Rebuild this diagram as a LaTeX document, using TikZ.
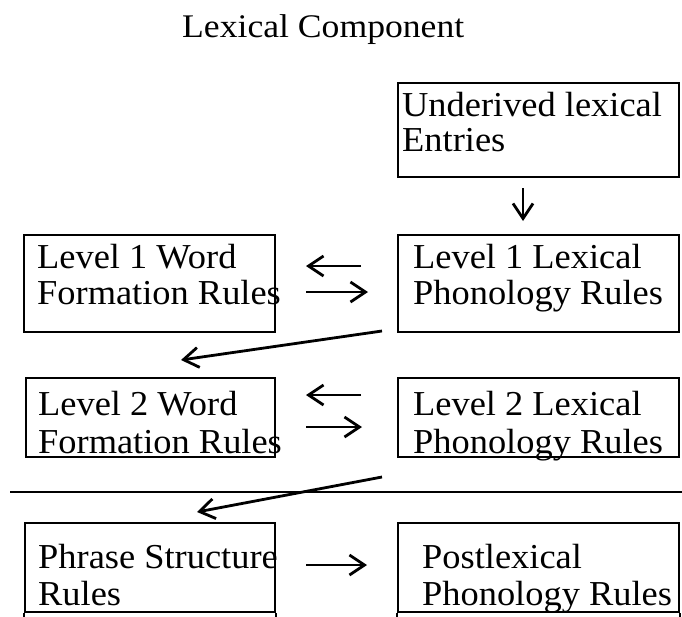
\documentclass[tikz,border=0pt]{standalone}
\usepackage{fontspec}
\setmainfont{Liberation Serif}[FakeStretch=1.04]
\newfontfamily\titlefont{Liberation Serif}[FakeStretch=1.08]
\usetikzlibrary{arrows.meta,calc}
\begin{document}
\begin{tikzpicture}[x=1pt,y=-1pt,
  box/.style={draw,line width=2pt,inner sep=0pt},
  lbl/.style={anchor=base west,inner sep=0pt,font=\fontsize{35}{38}\selectfont},
  arr/.style={line width=2.8pt,-{Straight Barb[length=15pt,width=20pt,line width=2.8pt]}}]
\useasboundingbox (0,0) rectangle (682,616);
% title
\node[anchor=base west,inner sep=0pt,font=\titlefont\fontsize{33}{36}\selectfont] (title) at (182,37) {Lexical Component};
% boxes
\node[box,minimum width=281pt,minimum height=94pt] (ue) at (538.5,130) {};
\node[box,minimum width=251pt,minimum height=97pt] (l1w) at (149.5,283.5) {};
\node[box,minimum width=281pt,minimum height=97pt] (l1p) at (538.5,283.5) {};
\node[box,minimum width=249pt,minimum height=79pt] (l2w) at (150.5,417.5) {};
\node[box,minimum width=281pt,minimum height=79pt] (l2p) at (538.5,417.5) {};
\node[box,minimum width=250pt,minimum height=89pt] (ps) at (150,567.5) {};
\node[box,minimum width=281pt,minimum height=89pt] (pl) at (538.5,567.5) {};
\draw[line width=2pt] (ps.south west) -- ++(0,6) (ps.south east) -- ++(0,6)
  (pl.south west) -- ++(0,6) (pl.south east) -- ++(0,6);
% texts
\node[lbl] (t1) at (402,116) {Underived lexical};
\node[lbl] (t2) at (402,151) {Entries};
\node[lbl] (t3) at (37,268) {Level 1 Word};
\node[lbl] (t4) at (37,304) {Formation Rules};
\node[lbl] (t5) at (413,268) {Level 1 Lexical};
\node[lbl] (t6) at (413,304) {Phonology Rules};
\node[lbl] (t7) at (38,415) {Level 2 Word};
\node[lbl] (t8) at (38,453) {Formation Rules};
\node[lbl] (t9) at (413,415) {Level 2 Lexical};
\node[lbl] (t10) at (413,453) {Phonology Rules};
\node[lbl] (t11) at (38,568) {Phrase Structure};
\node[lbl] (t12) at (38,605) {Rules};
\node[lbl] (t13) at (422,568) {Postlexical};
\node[lbl] (t14) at (422,605) {Phonology Rules};
% separator
\draw[line width=2pt] (10,492) -- (682,492);
% arrows
\draw[arr] ($(ue.south)+(-15.5,10)$) -- ($(l1p.north)+(-15.5,-13)$);
\draw[arr] ($(l1p.west)+(-36,-17.5)$) -- ($(l1w.east)+(30,-17.5)$);
\draw[arr] ($(l1w.east)+(30,8.5)$) -- ($(l1p.west)+(-29,8.5)$);
\draw[arr] ($(l1p.south west)+(-15,-2)$) -- ($(l2w.north)+(30.5,-17)$);
\draw[arr] ($(l2p.west)+(-36,-22.5)$) -- ($(l2w.east)+(30,-22.5)$);
\draw[arr] ($(l2w.east)+(30,9.5)$) -- ($(l2p.west)+(-35,9.5)$);
\draw[arr] ($(l2p.south west)+(-15,19)$) -- ($(ps.north)+(47,-10)$);
\draw[arr] ($(ps.east)+(30,-2.5)$) -- ($(pl.west)+(-30,-2.5)$);
\end{tikzpicture}
\end{document}
